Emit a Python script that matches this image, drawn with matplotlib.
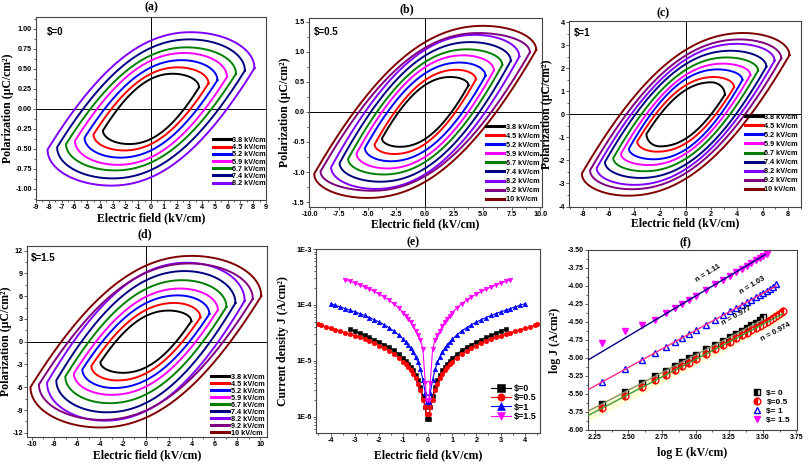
import numpy as np
import matplotlib
matplotlib.use("Agg")
import matplotlib.pyplot as plt
from matplotlib.ticker import MultipleLocator, AutoMinorLocator, FormatStrFormatter, FixedLocator, NullFormatter

plt.rcParams['font.family'] = ['Liberation Sans', 'DejaVu Sans']
plt.rcParams['font.weight'] = 'bold'
plt.rcParams['axes.unicode_minus'] = False
SERIF = ['Liberation Serif', 'DejaVu Serif']

# ---- P-E loops: tip field, tip polarization, peak polarization, field at peak
fields = ["3.8", "4.5", "5.2", "5.9", "6.7", "7.4", "8.2", "9.2", "10"]
loop_colors = ['#000000', '#ff0000', '#0000ff', '#ff00ff', '#008000',
               '#000080', '#8000ff', '#800080', '#800000']

a_etip = [3.76, 4.5, 5.2, 5.95, 6.65, 7.35, 8.1]
a_ptip = [0.27, 0.32, 0.36, 0.40, 0.44, 0.48, 0.51]
a_ppk = [0.44, 0.52, 0.61, 0.70, 0.77, 0.87, 0.96]
a_epk = [1.7, 2.1, 2.4, 2.6, 2.8, 3.0, 3.1]

b_etip = [3.76, 4.4, 5.24, 5.97, 6.7, 7.44, 8.18, 9.1, 9.65]
b_ptip = [0.44, 0.54, 0.60, 0.69, 0.78, 0.85, 0.92, 0.99, 1.03]
b_ppk = [0.58, 0.70, 0.82, 0.94, 1.04, 1.16, 1.28, 1.31, 1.43]
b_epk = [2.2, 2.7, 3.0, 3.3, 3.6, 3.9, 4.3, 4.6, 5.0]

c_etip = [3.06, 3.78, 4.43, 5.05, 5.65, 6.3, 6.94, 7.46, 8.1]
c_ptip = [0.85, 1.18, 1.49, 1.71, 1.9, 2.07, 2.33, 2.43, 2.57]
c_ppk = [1.39, 1.62, 1.95, 2.2, 2.47, 2.76, 3.06, 3.25, 3.53]
c_epk = [2.0, 2.2, 2.5, 2.9, 3.2, 3.5, 4.0, 4.2, 4.5]

d_etip = [3.98, 4.77, 5.56, 6.3, 7.05, 7.84, 8.65, 9.36, 10.1]
d_ptip = [2.7, 3.2, 3.65, 4.17, 4.6, 5.1, 5.4, 5.65, 6.0]
d_ppk = [4.1, 5.1, 6.1, 7.0, 8.1, 9.3, 10.4, 10.3, 11.3]
d_epk = [2.0, 2.5, 2.8, 3.0, 3.2, 3.4, 3.6, 3.8, 4.0]

# ---- J-E data (positive branch, curves are symmetric)
E_pos = [0.05, 0.1, 0.2, 0.3, 0.4, 0.5, 0.6, 0.7, 0.8, 0.9, 1.0, 1.2, 1.4, 1.6,
         1.8, 2.0, 2.2, 2.4, 2.6, 2.8, 3.0, 3.2, 3.4, 3.6, 3.8, 4.0, 4.2, 4.4, 4.5]
J_s0 = [9e-7, 1.5e-6, 2.3e-6, 3.4e-6, 4.5e-6, 5.6e-6, 6.7e-6, 7.8e-6, 8.9e-6, 9.9e-6,
        1.1e-5, 1.32e-5, 1.53e-5, 1.74e-5, 1.95e-5, 2.17e-5, 2.4e-5, 2.62e-5, 2.85e-5,
        3.1e-5, 3.38e-5, 3.7e-5]
J_s05 = [1.1e-6, 1.5e-6, 2.0e-6, 3.0e-6, 3.9e-6, 4.9e-6, 5.8e-6, 6.75e-6, 7.7e-6, 8.6e-6,
         9.55e-6, 1.14e-5, 1.32e-5, 1.51e-5, 1.69e-5, 1.87e-5, 2.06e-5, 2.24e-5, 2.43e-5,
         2.62e-5, 2.82e-5, 3.0e-5, 3.2e-5, 3.4e-5, 3.6e-5, 3.8e-5, 4.05e-5, 4.3e-5, 4.5e-5]
J_s1 = [1.8e-6, 2.6e-6, 4.6e-6, 7.0e-6, 9.4e-6, 1.18e-5, 1.43e-5, 1.67e-5, 1.92e-5, 2.17e-5,
        2.42e-5, 2.91e-5, 3.41e-5, 3.92e-5, 4.43e-5, 4.93e-5, 5.43e-5, 5.94e-5, 6.46e-5,
        6.97e-5, 7.5e-5, 8.0e-5, 8.6e-5, 9.2e-5, 9.8e-5, 1.05e-4]
J_s15 = [2.0e-6, 4.0e-6, 1.6e-5, 2.4e-5, 2.9e-5, 3.4e-5, 4.2e-5, 4.9e-5, 5.65e-5, 6.45e-5,
         7.24e-5, 8.87e-5, 1.05e-4, 1.22e-4, 1.39e-4, 1.56e-4, 1.74e-4, 1.91e-4, 2.09e-4,
         2.27e-4, 2.45e-4, 2.63e-4, 2.8e-4]
je_labels = ["$=0", "$=0.5", "$=1", "$=1.5"]

# ---- log J - log E fits
fit_n = [0.977, 0.974, 1.03, 1.11]
fit_c = [-7.889, -7.942, -7.707, -7.47]
fit_x1 = [3.5, 3.65, 3.6, 3.52]
fit_colors = ['#8c8c70', '#3c9a32', '#ff2a8a', '#000080']
f_labels = ["$= 0", "$=0.5", "$= 1", "$= 1.5"]

W, H = 808, 465
fig = plt.figure(figsize=(W / 100, H / 100), dpi=100)


def rect(l, t, r, b):
    return [l / W, 1 - b / H, (r - l) / W, (b - t) / H]


def loop(etip, ptip, ppk, epk, n=150):
    tp = epk / etip
    t1 = np.linspace(-1, tp, n)
    u = (t1 + 1) / (1 + tp)
    s = np.sin(np.pi / 2 * u) + 0.4 * u * (1 - u) ** 2
    p1 = -ptip + (ptip + ppk) * s
    t2 = np.linspace(tp, 1, n)[1:]
    p2 = ptip + (ppk - ptip) * np.sqrt(np.clip(1 - ((t2 - tp) / (1 - tp)) ** 2, 0, 1))
    t = np.concatenate([t1, t2])
    p = np.concatenate([p1, p2])
    E = np.concatenate([t[::-1], -t[::-1]]) * etip
    P = np.concatenate([p[::-1], -p[::-1]])
    return E, P


def style(ax, fs=5.2):
    for sp in ax.spines.values():
        sp.set_color('#444444')
        sp.set_linewidth(0.8)
    ax.tick_params(which='both', direction='out', labelsize=fs, width=0.6,
                   color='#444444', pad=1.0)
    ax.tick_params(which='major', length=2.0)
    ax.tick_params(which='minor', length=1.2)


def labels(ax, xl, yl, ylx, xly, fs=8.5):
    ax.set_xlabel(xl, family=SERIF, fontsize=fs, weight='bold')
    ax.set_ylabel(yl, family=SERIF, fontsize=fs, weight='bold')
    ax.yaxis.set_label_coords(ylx, 0.5)
    ax.xaxis.set_label_coords(0.5, xly)


def title(x, y, s):
    fig.text(x / W, 1 - y / H, s, ha='center', va='center', family=SERIF,
             fontsize=8.5, weight='bold')


def loop_panel(r, etip, ptip, ppk, epk, tag, tagpos, anchor, spacing):
    ax = fig.add_axes(r)
    for i in range(len(etip)):
        E, P = loop(etip[i], ptip[i], ppk[i], epk[i])
        ax.plot(E, P, color=loop_colors[i], lw=1.4, label=fields[i] + " kV/cm")
    ax.axhline(0, color='k', lw=0.7, zorder=0.5)
    ax.axvline(0, color='k', lw=0.7, zorder=0.5)
    ax.text(tagpos[0], tagpos[1], tag, transform=ax.transAxes, ha='left',
            va='center', fontsize=7)
    leg = ax.legend(loc='lower right', bbox_to_anchor=anchor, frameon=False,
                    fontsize=5.2, labelspacing=spacing, handlelength=2.5,
                    handletextpad=0.2, borderpad=0, borderaxespad=0)
    for h in leg.legend_handles:
        h.set_linewidth(2.2)
    style(ax)
    return ax


# (a)
ax = loop_panel(rect(36, 17, 266, 200), a_etip, a_ptip, a_ppk, a_epk, "$=0",
                (0.048, 0.918), (1.0, 0.07), 0.02)
ax.set_xlim(-9, 9)
ax.set_ylim(-1.14, 1.15)
ax.xaxis.set_major_locator(MultipleLocator(1))
ax.xaxis.set_minor_locator(AutoMinorLocator(2))
ax.yaxis.set_major_locator(MultipleLocator(0.25))
ax.yaxis.set_minor_locator(AutoMinorLocator(2))
ax.yaxis.set_major_formatter(FormatStrFormatter('%.2f'))
labels(ax, "Electric field (kV/cm)", "Polarization (μC/cm²)", -0.096, -0.066)
title(151, 7, "(a)")

# (b)
ax = loop_panel(rect(309, 18, 542, 207), b_etip, b_ptip, b_ppk, b_epk, "$=0.5",
                (0.021, 0.926), (0.99, 0.02), 0.28)
ax.set_xlim(-10.1, 10.15)
ax.set_ylim(-1.58, 1.56)
ax.xaxis.set_major_locator(MultipleLocator(2.5))
ax.xaxis.set_minor_locator(AutoMinorLocator(2))
ax.xaxis.set_major_formatter(FormatStrFormatter('%.1f'))
ax.yaxis.set_major_locator(MultipleLocator(0.5))
ax.yaxis.set_minor_locator(AutoMinorLocator(2))
ax.yaxis.set_major_formatter(FormatStrFormatter('%.1f'))
labels(ax, "Electric field (kV/cm)", "Polarization (μC/cm²)", -0.077, -0.058)
title(407, 9, "(b)")

# (c)
ax = loop_panel(rect(569, 21, 801, 207), c_etip, c_ptip, c_ppk, c_epk, "$=1",
                (0.022, 0.935), (0.987, 0.075), 0.27)
ax.set_xlim(-9.1, 9.0)
ax.set_ylim(-4.02, 4.05)
ax.xaxis.set_major_locator(MultipleLocator(2))
ax.xaxis.set_minor_locator(AutoMinorLocator(2))
ax.yaxis.set_major_locator(MultipleLocator(1))
ax.yaxis.set_minor_locator(AutoMinorLocator(2))
labels(ax, "Electric field (kV/cm)", "Polarization (μC/cm²)", -0.069, -0.056)
title(663, 13, "(c)")

# (d)
ax = loop_panel(rect(27, 246, 267, 437), d_etip, d_ptip, d_ppk, d_epk, "$=1.5",
                (0.015, 0.937), (0.99, 0.0), 0.0)
ax.set_xlim(-10.4, 10.6)
ax.set_ylim(-12.55, 12.6)
ax.xaxis.set_major_locator(MultipleLocator(2))
ax.xaxis.set_minor_locator(AutoMinorLocator(2))
ax.yaxis.set_major_locator(MultipleLocator(3))
ax.yaxis.set_minor_locator(AutoMinorLocator(2))
labels(ax, "Electric field (kV/cm)", "Polarization (μC/cm²)", -0.0625, -0.063)
title(145, 234, "(d)")

# (e) J-E
ax = fig.add_axes(rect(316, 249, 540, 433))
je_sets = [(J_s0, 's', '#000000'), (J_s05, 'o', '#ff0000'),
           (J_s1, '^', '#0000ff'), (J_s15, 'v', '#ff00ff')]
for (J, mk, col), lab in zip(je_sets, je_labels):
    e = np.array(E_pos[:len(J)])
    j = np.array(J)
    ax.plot(np.concatenate([-e[::-1], e]), np.concatenate([j[::-1], j]),
            color=col, marker=mk, ms=3.3, mew=0.4, lw=0.8, label=lab)
ax.set_yscale('log')
ax.set_xlim(-4.6, 4.62)
ax.set_ylim(5.1e-7, 1e-3)
ax.yaxis.set_major_locator(FixedLocator([1e-6, 1e-5, 1e-4, 1e-3]))
ax.set_yticklabels(["1E-6", "1E-5", "1E-4", "1E-3"])
ax.yaxis.set_minor_formatter(NullFormatter())
ax.xaxis.set_major_locator(MultipleLocator(1))
ax.xaxis.set_minor_locator(AutoMinorLocator(2))
style(ax, 5.2)
ax.legend(loc='lower right', bbox_to_anchor=(0.985, 0.065), frameon=False,
          fontsize=6.5, labelspacing=0.05, handlelength=2.2, handletextpad=0.3,
          markerscale=1.6, borderpad=0, borderaxespad=0)
labels(ax, "Electric field (kV/cm)", "Current density J (A/cm²)", -0.12, -0.087)
title(413, 242, "(e)")

# (f) log J vs log E
ax = fig.add_axes(rect(588, 250, 797, 430))
xb = np.linspace(2.2, 3.65, 40)
ax.fill_between(xb, fit_n[1] * xb + fit_c[1] - 0.09, fit_n[0] * xb + fit_c[0] + 0.04,
                color='#ffffc8', alpha=0.7, lw=0, zorder=1)
f_styles = [dict(marker='s', color='#000000', fillstyle='left', markerfacecoloralt='white', mec='#000000'),
            dict(marker='o', color='#ff0000', fillstyle='left', markerfacecoloralt='white', mec='#ff0000'),
            dict(marker='^', color='#0000ff', mfc='white', mec='#0000ff'),
            dict(marker='v', color='#ff00ff', mfc='#ff00ff', mec='#ff00ff')]
for (J, mk, col), st, lab in zip(je_sets, f_styles, f_labels):
    e = np.array(E_pos[:len(J)])
    ax.plot(np.log10(e * 1000), np.log10(J), ls='none', ms=4.8, mew=1.0,
            label=lab, zorder=2, **st)
for i in range(4):
    xf = np.array([2.2, fit_x1[i]])
    ax.plot(xf, fit_n[i] * xf + fit_c[i], color=fit_colors[i], lw=1.0, zorder=3)
n_text = ["n = 0.977", "n = 0.974", "n = 1.03", "n = 1.11"]
n_pos = [(3.305, -4.41), (3.60, -4.64), (3.42, -3.99), (3.09, -3.82)]
n_rot = [29, 28, 31, 32]
for s, (x, y), r in zip(n_text, n_pos, n_rot):
    ax.text(x, y, s, rotation=r, ha='center', va='center', fontsize=5.5,
            rotation_mode='anchor')
ax.set_xlim(2.2, 3.755)
ax.set_ylim(-6.0, -3.5)
ax.xaxis.set_major_locator(MultipleLocator(0.25))
ax.xaxis.set_minor_locator(AutoMinorLocator(2))
ax.xaxis.set_major_formatter(FormatStrFormatter('%.2f'))
ax.yaxis.set_major_locator(MultipleLocator(0.25))
ax.yaxis.set_minor_locator(AutoMinorLocator(2))
ax.yaxis.set_major_formatter(FormatStrFormatter('%.2f'))
style(ax, 5)
ax.legend(loc='lower right', bbox_to_anchor=(0.967, 0.033), frameon=False,
          fontsize=6, labelspacing=0.15, handlelength=1.0, handletextpad=0.6,
          borderpad=0, borderaxespad=0)
labels(ax, "log E (kV/cm)", "log J (A/cm²)", -0.129, -0.094)
title(685, 242, "(f)")

fig.savefig("out.png", dpi=100)
